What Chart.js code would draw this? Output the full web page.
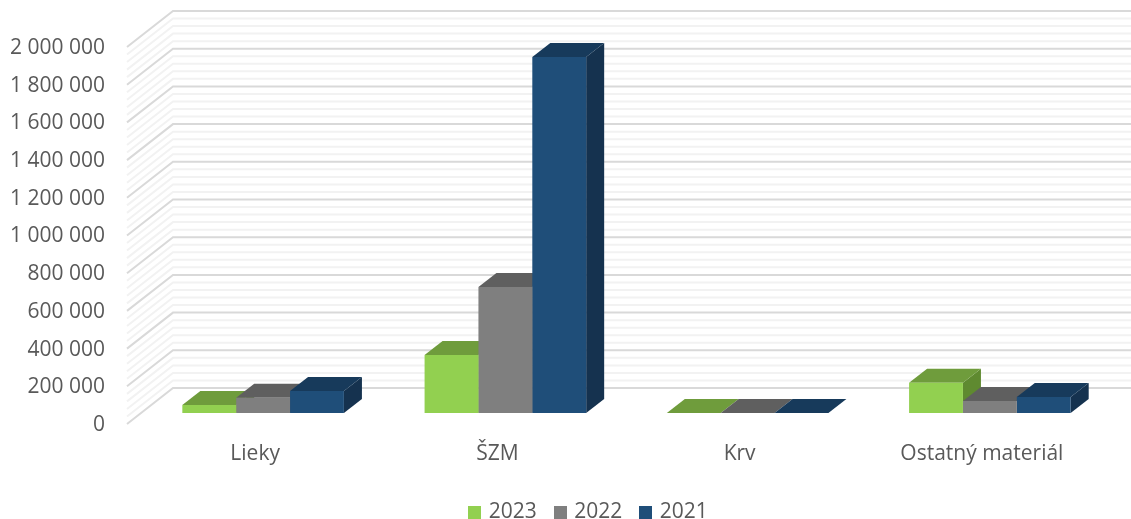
<!DOCTYPE html>
<html><head><meta charset="utf-8">
<style>html,body{margin:0;padding:0;background:#fff}canvas{display:block}</style>
<script src="https://cdn.jsdelivr.net/npm/chart.js@4/dist/chart.umd.min.js"></script>
</head><body><canvas id="c" width="1131" height="519"></canvas>
<script>
const categories = ['Lieky', 'ŠZM', 'Krv', 'Ostatný materiál'];
const series2023 = [42000, 308000, 600, 161000];
const series2022 = [81000, 668000, 600, 64000];
const series2021 = [117000, 1888000, 600, 85000];
const seriesNames = ['2023', '2022', '2021'];
const frontColors = ['#92D050', '#7F7F7F', '#1F4E79'];
const topColors = ['#6F9C3C', '#5F5F5F', '#173A5B'];
const sideColors = ['#5F8A30', '#4F4F4F', '#15324F'];
const FONT = '"Open Sans", sans-serif';
const depth3d = {barDx: 18, barDy: 14, frontDx: 15, frontDy: 11, backDx: 31, backDy: 25};
const legendSquare = color => {
  const c = document.createElement('canvas');
  c.width = 13; c.height = 13;
  const g = c.getContext('2d');
  g.fillStyle = color; g.fillRect(0, 0, 13, 13);
  return c;
};
const wall = {
  id: 'wall3d',
  afterLayout(chart) {
    const lg = chart.legend;
    lg.left += 34; lg.right += 34;
    lg.top += 14; lg.bottom += 14;
  },
  beforeDatasetsDraw(chart) {
    const {ctx, chartArea: a, scales: {y}} = chart;
    const left = a.left;
    const d = depth3d;
    ctx.save();
    ctx.lineCap = 'butt';
    const step = 200000, minors = 5;
    const lines = [];
    for (let v = 0; v <= y.max; v += step / minors) {
      const major = Math.round(v / step * minors) % minors === 0;
      lines.push({v, major});
    }
    lines.sort((p, q) => p.major - q.major);
    for (const {v, major} of lines) {
      const p = y.getPixelForValue(v);
      ctx.strokeStyle = major ? '#D9D9D9' : '#F2F2F2';
      ctx.lineWidth = 2;
      ctx.beginPath();
      ctx.moveTo(left - d.frontDx, p + d.frontDy);
      ctx.lineTo(left + d.backDx, p - d.backDy);
      ctx.lineTo(chart.width, p - d.backDy);
      ctx.stroke();
    }
    const metas = chart.getSortedVisibleDatasetMetas();
    for (let i = 0; i < categories.length; i++) {
      metas.forEach((m, s) => {
        const b = m.data[i];
        const l = b.x - b.width / 2, r = b.x + b.width / 2;
        const t = b.y, base = b.base;
        ctx.fillStyle = sideColors[s];
        ctx.beginPath();
        ctx.moveTo(r, t); ctx.lineTo(r + d.barDx, t - d.barDy);
        ctx.lineTo(r + d.barDx, base - d.barDy); ctx.lineTo(r, base);
        ctx.closePath(); ctx.fill();
        ctx.fillStyle = topColors[s];
        ctx.beginPath();
        ctx.moveTo(l, t); ctx.lineTo(l + d.barDx, t - d.barDy);
        ctx.lineTo(r + d.barDx, t - d.barDy); ctx.lineTo(r, t);
        ctx.closePath(); ctx.fill();
      });
    }
    ctx.restore();
  }
};
const fmt = v => String(v).replace(/\B(?=(\d{3})+(?!\d))/g, ' ');
new Chart(document.getElementById('c'), {
  type: 'bar',
  data: {
    labels: categories,
    datasets: [series2023, series2022, series2021].map((vals, i) => ({
      label: seriesNames[i], data: vals, backgroundColor: frontColors[i], borderWidth: 0
    }))
  },
  plugins: [wall],
  options: {
    responsive: false, animation: false,
    categoryPercentage: 0.667, barPercentage: 1,
    layout: {padding: {top: 36, right: 20, left: 0, bottom: 0}, autoPadding: false},
    scales: {
      x: {
        grid: {display: false}, border: {display: false},
        ticks: {color: '#595959', font: {family: FONT, size: 21}, padding: 20, labelOffset: -8, maxRotation: 0},
        afterFit(s) { s.height = 55; s.paddingLeft = 0; s.paddingRight = 0; }
      },
      y: {
        min: 0, max: 2000000,
        grid: {display: false, drawTicks: false}, border: {display: false},
        ticks: {stepSize: 200000, color: '#595959', font: {family: FONT, size: 21}, padding: 37,
                labelOffset: 12, callback: fmt},
        afterFit(s) { s.width = 142; s.paddingTop = 0; s.paddingBottom = 0; }
      }
    },
    plugins: {
      tooltip: {enabled: false},
      legend: {position: 'bottom', labels: {
        usePointStyle: true, pointStyleWidth: 7, boxHeight: 13, color: '#595959',
        font: {family: FONT, size: 21}, padding: 20,
        generateLabels: () => seriesNames.map((n, i) => ({
          text: n, fontColor: '#595959', pointStyle: legendSquare(frontColors[i]),
          fillStyle: frontColors[i], strokeStyle: frontColors[i], lineWidth: 0, datasetIndex: i
        }))
      }}
    }
  }
});
</script></body></html>
